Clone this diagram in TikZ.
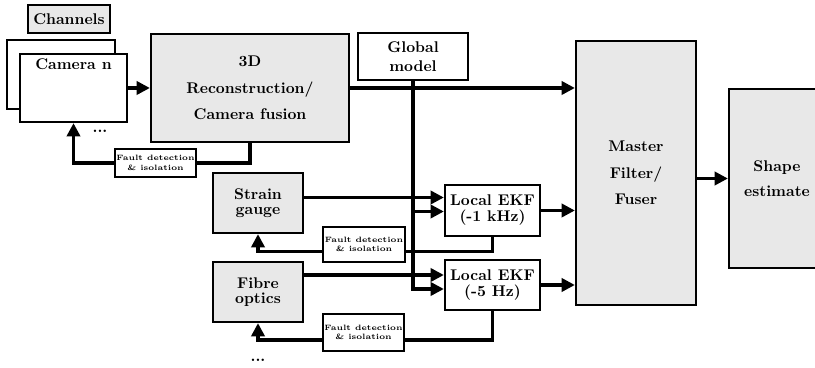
\documentclass[tikz,border=0pt]{standalone}
\usetikzlibrary{arrows.meta,calc}

\begin{document}
\begin{tikzpicture}[x=0.645pt, y=-0.645pt, >={Triangle[length=8.5pt,width=8.5pt]},
    box/.style={draw, line width=1.5pt, fill=white, align=center, font=\bfseries, inner sep=2pt},
    gbox/.style={box, fill=black!9},
    fdi/.style={draw, line width=1.2pt, fill=white, align=center, font=\tiny\bfseries, inner sep=1pt, minimum width=48.4pt},
    link/.style={line width=2pt}]
    \useasboundingbox (0,0) rectangle (815,368);

    \node[gbox, minimum width=52.9pt, minimum height=18.1pt] (channels) at (69,19) {Channels};
    \node[box, minimum width=69.7pt, minimum height=44.5pt] (cambg) at (61,74.5) {};
    \node[box, minimum width=69pt, minimum height=43.9pt,
        label={[anchor=north, font=\bfseries]north:Camera n}] (cam) at (73.5,88) {};
    \node[font=\bfseries] (dotsa) at (100,131) {...};
    \node[gbox, minimum width=127.7pt, minimum height=69.7pt] (recon) at (250,88)
        {3D\\[5pt] Reconstruction/\\[5pt] Camera fusion};
    \node[fdi, minimum height=18.1pt] (fdia) at (155.5,163) {Fault detection\\ \& isolation};

    \node[box, minimum width=71pt, minimum height=30.3pt] (global) at (413,56.5) {Global\\ model};
    \node[gbox, minimum width=77.4pt, minimum height=170.3pt] (master) at (636,173)
        {Master\\[5pt] Filter/\\[5pt] Fuser};
    \node[gbox, minimum width=61.9pt, minimum height=115.5pt] (shape) at (777,178.5)
        {Shape\\[4pt] estimate};

    \node[gbox, minimum width=58pt, minimum height=38.7pt] (strain) at (258,203) {Strain\\[-2pt] gauge};
    \node[box, minimum width=61.3pt, minimum height=32.9pt] (ekfa) at (492.5,210.5) {Local EKF\\[-1.7pt] (-1 kHz)};
    \node[fdi, minimum height=22.6pt] (fdib) at (364,244.5) {Fault detection\\ \& isolation};

    \node[gbox, minimum width=58pt, minimum height=38.7pt] (fibre) at (258,292) {Fibre\\[-2pt] optics};
    \node[box, minimum width=61.3pt, minimum height=32.3pt] (ekfb) at (492.5,285) {Local EKF\\[-1.7pt] (-5 Hz)};
    \node[fdi, minimum height=23.9pt] (fdic) at (363.5,332.5) {Fault detection\\ \& isolation};
    \node[font=\bfseries] (dotsb) at (258,360) {...};

    \coordinate (ina) at ($(ekfa.west)+(0,-13)$);
    \coordinate (inb) at ($(ekfa.west)+(0,1)$);
    \coordinate (inc) at ($(ekfb.west)+(0,-10)$);
    \coordinate (ind) at ($(ekfb.west)+(0,4)$);

    \draw[link, ->] (cam.east) -- (recon.west);
    \draw[link, ->] (recon.east) -- (recon.east -| master.west);
    \draw[link] (recon.south) |- (fdia.east);
    \draw[link, ->] (fdia.west) -| (cam.south);

    \draw[link, ->] (global.south) |- (ind);
    \draw[link, ->] (global.south |- inb) -- (inb);
    \draw[link, ->] (strain.east |- ina) -- (ina);
    \draw[link, ->] (fibre.east |- inc) -- (inc);

    \draw[link, ->] (ekfa.east) -- (ekfa.east -| master.west);
    \draw[link, ->] (ekfb.east) -- (ekfb.east -| master.west);
    \draw[link, ->] (shape.west -| master.east) -- (shape.west);

    \draw[link] (ekfa.south) |- ($(fdib.east)+(0,7)$);
    \draw[link, ->] ($(fdib.west)+(0,7)$) -| (strain.south);
    \draw[link] (ekfb.south) |- ($(fdic.east)+(0,7.5)$);
    \draw[link, ->] ($(fdic.west)+(0,7.5)$) -| (fibre.south);
\end{tikzpicture}
\end{document}
